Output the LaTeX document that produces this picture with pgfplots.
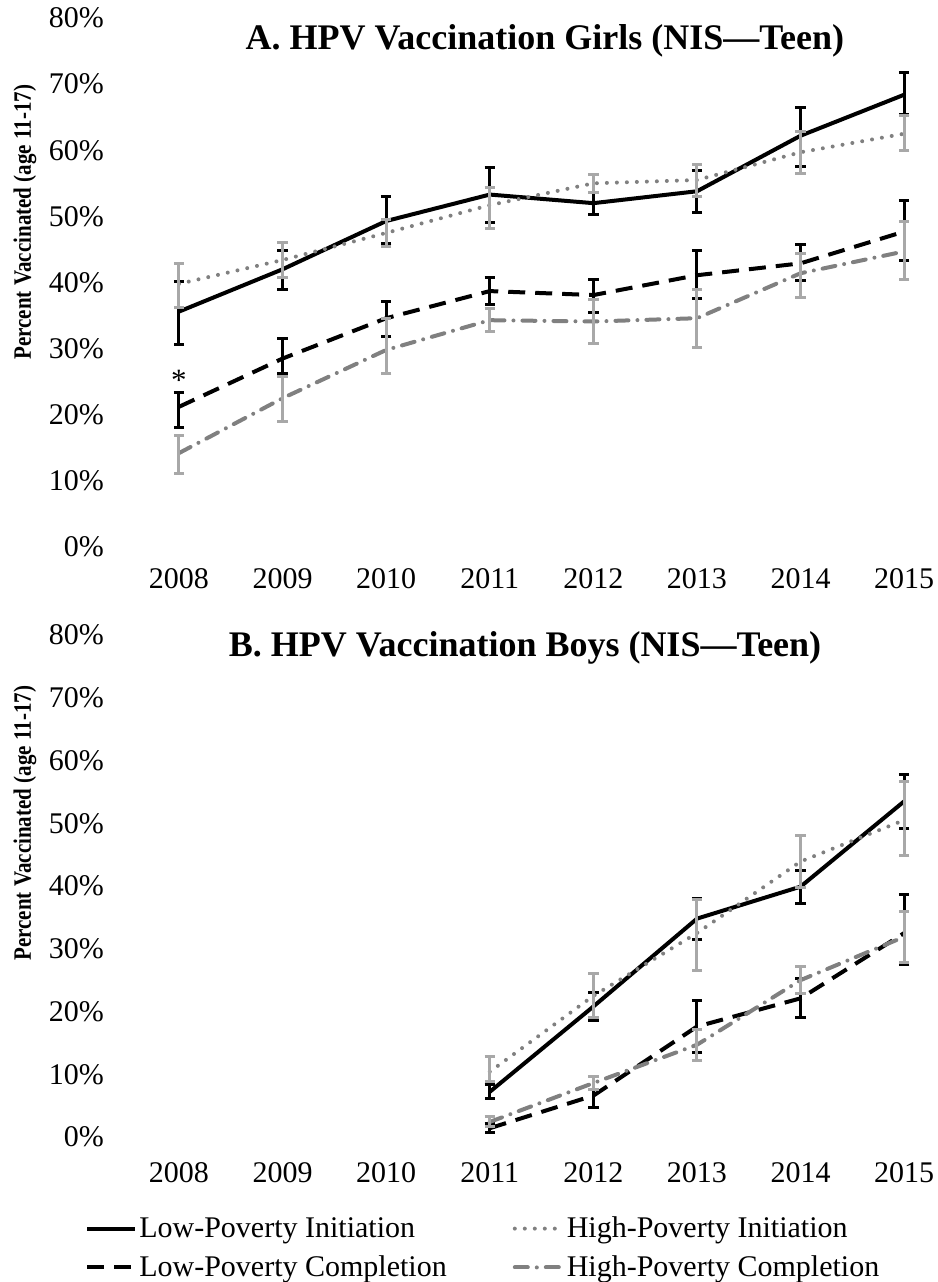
\documentclass[border=0pt]{standalone}
\usepackage{pgfplots}
\pgfplotsset{compat=1.18}
\usepackage{pgfplotstable}
\usepackage{fontspec}
\setmainfont{Liberation Serif}
\newfontfamily\ylabfont[FakeStretch=0.84]{Liberation Serif}
\definecolor{dgray}{HTML}{808080}
\definecolor{lgray}{HTML}{A8A8A8}

% Panel A (girls)
\pgfplotstableread{
x y ep em
0 35.6 4.5 4.9
1 42.0 2.8 3.0
2 49.3 3.7 3.4
3 53.3 4.1 4.3
4 52.0 1.6 1.7
5 53.8 3.1 3.2
6 62.2 4.3 4.6
7 68.4 3.4 3.0
}\ALI
\pgfplotstableread{
x y ep em
0 39.8 3.1 3.6
1 43.4 2.6 2.7
2 47.5 2.0 2.0
3 51.7 2.6 3.5
4 55.0 1.4 1.4
5 55.5 2.4 2.5
6 59.7 3.1 3.2
7 62.5 2.7 2.5
}\AHI
\pgfplotstableread{
x y ep em
0 21.2 2.1 3.2
1 28.5 3.1 2.2
2 34.6 2.5 2.8
3 38.7 2.0 2.1
4 38.1 2.3 2.6
5 41.1 3.7 3.5
6 42.9 2.8 2.6
7 47.7 4.7 4.3
}\ALC
\pgfplotstableread{
x y ep em
0 14.2 2.7 3.1
1 22.5 3.3 3.5
2 29.8 4.8 3.5
3 34.3 1.8 1.7
4 34.1 3.4 3.3
5 34.6 4.3 4.4
6 41.4 3.0 3.6
7 44.7 4.5 4.3
}\AHC
% Panel B (boys)
\pgfplotstableread{
x y ep em
3 7.2 1.1 1.0
4 20.8 2.2 2.2
5 34.8 3.2 3.4
6 39.9 2.6 2.7
7 53.5 4.2 4.3
}\BLI
\pgfplotstableread{
x y ep em
3 10.4 2.4 1.6
4 22.5 3.6 3.5
5 32.5 5.3 6.0
6 43.9 4.2 4.2
7 50.5 6.1 5.7
}\BHI
\pgfplotstableread{
x y ep em
3 1.4 0.7 0.7
4 6.6 1.0 1.9
5 17.6 4.2 4.2
6 22.1 3.2 3.1
7 32.5 6.1 5.0
}\BLC
\pgfplotstableread{
x y ep em
3 2.4 0.8 0.8
4 8.6 1.0 1.0
5 14.7 2.5 2.5
6 25.0 2.1 2.1
7 31.9 4.0 4.1
}\BHC

\begin{document}
\begin{tikzpicture}
\pgfplotsset{
  base/.style={
    scale only axis, width=414.4pt,
    xmin=-0.5, xmax=7.5, ymin=0, ymax=80,
    xtick={0,...,7}, xticklabels={2008,2009,2010,2011,2012,2013,2014,2015},
    ytick={0,10,...,80},
    yticklabel={\pgfmathprintnumber{\tick}\%},
    /pgf/number format/assume math mode=true,
    axis line style={draw=none}, major tick style={draw=none}, major tick length=0pt,
    tick label style={font=\fontsize{15}{17}\selectfont},
    yticklabel style={anchor=east, inner sep=0pt, xshift=-11.5pt},
    xticklabel style={anchor=north, inner sep=0pt},
    ylabel={Percent Vaccinated (age 11-17)},
    clip=false,
  },
  li/.style={black, line width=2pt, solid, mark=none,
    error bars/.cd, y dir=both, y explicit,
    error bar style={black, line width=1.5pt, solid},
    error mark options={rotate=90, mark size=2.6pt, line width=1.5pt, black, solid}},
  hi/.style={dgray, line width=2pt, line cap=round, dash pattern=on 0pt off 5pt, mark=none,
    error bars/.cd, y dir=both, y explicit,
    error bar style={lgray, line width=1.5pt, solid, line cap=butt},
    error mark options={rotate=90, mark size=2.6pt, line width=1.5pt, lgray, solid}},
  lc/.style={black, line width=2pt, dash pattern=on 8.5pt off 5pt, mark=none,
    error bars/.cd, y dir=both, y explicit,
    error bar style={black, line width=1.5pt, solid},
    error mark options={rotate=90, mark size=2.6pt, line width=1.5pt, black, solid}},
  hc/.style={dgray, line width=2pt, line cap=round, dash pattern=on 6.5pt off 4.5pt on 0pt off 4.5pt, mark=none,
    error bars/.cd, y dir=both, y explicit,
    error bar style={lgray, line width=1.5pt, solid, line cap=butt},
    error mark options={rotate=90, mark size=2.6pt, line width=1.5pt, lgray, solid}},
}
% ---------- Panel A ----------
\begin{axis}[base, height=264.5pt, at={(63.6pt,367.5pt)}, anchor=south west,
  xticklabel style={yshift=-10.5pt},
  ylabel style={font=\ylabfont\fontsize{12.5}{14}\selectfont\bfseries, anchor=center, at={(axis description cs:-0.1233,0.614)}}]
\addplot[li] table[x=x,y=y,y error plus=ep,y error minus=em]{\ALI};
\addplot[hi] table[x=x,y=y,y error plus=ep,y error minus=em]{\AHI};
\addplot[lc] table[x=x,y=y,y error plus=ep,y error minus=em]{\ALC};
\addplot[hc] table[x=x,y=y,y error plus=ep,y error minus=em]{\AHC};
\node[font=\fontsize{15.5}{17}\selectfont, inner sep=0pt] at (axis cs:0,25.2) {*};
\node[font=\fontsize{18}{20}\selectfont\bfseries] at (axis description cs:0.504,0.956) {A. HPV Vaccination Girls (NIS---Teen)};
\end{axis}
% ---------- Panel B ----------
\begin{axis}[base, height=251pt, at={(63.6pt,72.5pt)}, anchor=south west,
  xticklabel style={yshift=-12.5pt},
  ylabel style={font=\ylabfont\fontsize{12.5}{14}\selectfont\bfseries, anchor=center, at={(axis description cs:-0.1233,0.625)}},
  legend columns=2,
  legend cell align=left,
  legend image code/.code={\draw[#1] (0pt,0pt) -- (24pt,0pt);},
  legend style={at={(axis description cs:-0.051,-0.154)}, anchor=north west, draw=none, fill=none,
    font=\fontsize{15}{17}\selectfont, inner sep=0pt, row sep=5.5pt,
    /tikz/every even column/.append style={column sep=32pt},
    nodes={inner xsep=1pt, inner ysep=1pt}}]
\addplot[li] table[x=x,y=y,y error plus=ep,y error minus=em]{\BLI};
\addlegendentry{Low-Poverty Initiation}
\addplot[hi] table[x=x,y=y,y error plus=ep,y error minus=em]{\BHI};
\addlegendentry{High-Poverty Initiation}
\addplot[lc] table[x=x,y=y,y error plus=ep,y error minus=em]{\BLC};
\addlegendentry{Low-Poverty Completion}
\addplot[hc] table[x=x,y=y,y error plus=ep,y error minus=em]{\BHC};
\addlegendentry{High-Poverty Completion}
\node[font=\fontsize{18}{20}\selectfont\bfseries] at (axis description cs:0.48,0.974) {B. HPV Vaccination Boys (NIS---Teen)};
\end{axis}
\pgfresetboundingbox
\path[use as bounding box] (0pt,0pt) rectangle (469pt,641pt);
\end{tikzpicture}
\end{document}
